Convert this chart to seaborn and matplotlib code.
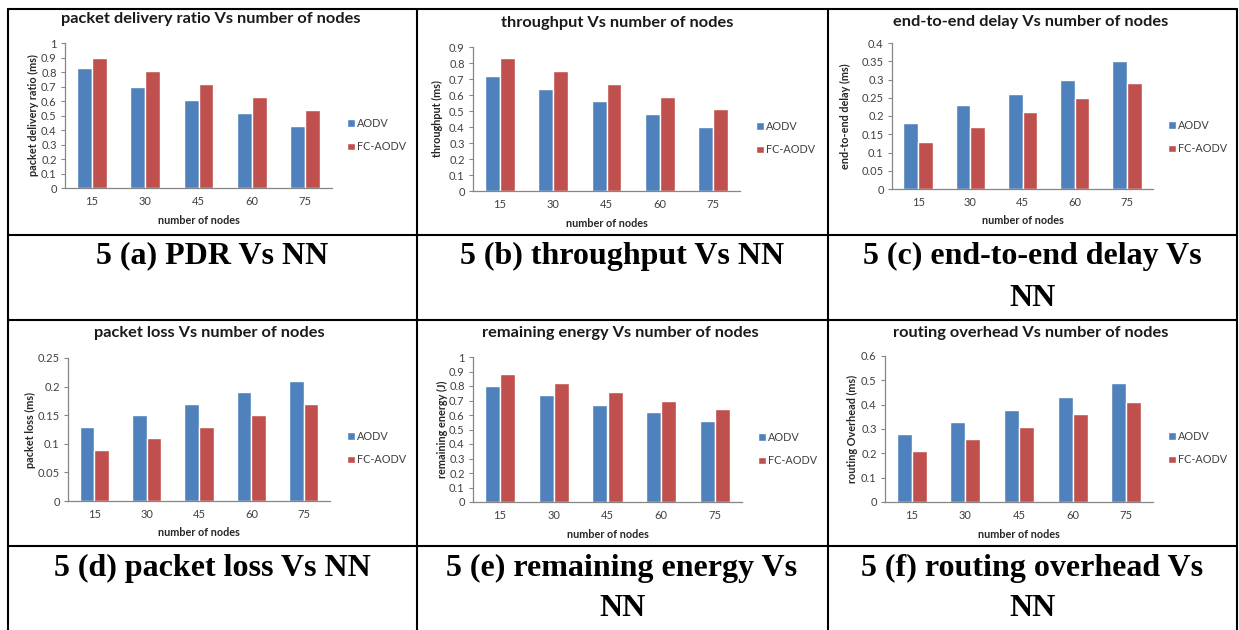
import numpy as np
import pandas as pd
import matplotlib
matplotlib.use("Agg")
import matplotlib.pyplot as plt
import seaborn as sns
from matplotlib.lines import Line2D

# ---- data -------------------------------------------------------------
nodes = ["15", "30", "45", "60", "75"]
protocols = ["AODV", "FC-AODV"]

pdr_aodv = [0.83, 0.70, 0.61, 0.52, 0.43]
pdr_fc = [0.90, 0.81, 0.72, 0.63, 0.54]

thr_aodv = [0.72, 0.64, 0.56, 0.48, 0.40]
thr_fc = [0.83, 0.75, 0.67, 0.59, 0.51]

delay_aodv = [0.18, 0.23, 0.26, 0.30, 0.35]
delay_fc = [0.13, 0.17, 0.21, 0.25, 0.29]

loss_aodv = [0.13, 0.15, 0.17, 0.19, 0.21]
loss_fc = [0.09, 0.11, 0.13, 0.15, 0.17]

energy_aodv = [0.80, 0.74, 0.67, 0.62, 0.56]
energy_fc = [0.88, 0.82, 0.76, 0.70, 0.64]

ovh_aodv = [0.28, 0.33, 0.38, 0.43, 0.49]
ovh_fc = [0.21, 0.26, 0.31, 0.36, 0.41]

titles = [
    "packet delivery ratio Vs number of nodes",
    "throughput Vs number of nodes",
    "end-to-end delay Vs number of nodes",
    "packet loss Vs number of nodes",
    "remaining energy Vs number of nodes",
    "routing overhead Vs number of nodes",
]
ylabels = [
    "packet delivery ratio (ms)",
    "throughput (ms)",
    "end-to-end delay (ms)",
    "packet loss (ms)",
    "remaining energy (J)",
    "routing Overhead (ms)",
]
captions = [
    ["5 (a) PDR Vs NN"],
    ["5 (b) throughput Vs NN"],
    ["5 (c) end-to-end delay Vs", "NN"],
    ["5 (d) packet loss Vs NN"],
    ["5 (e) remaining energy Vs", "NN"],
    ["5 (f) routing overhead Vs", "NN"],
]
xlabel = "number of nodes"

# ---- layout (pixels) ---------------------------------------------------
W, H = 1239, 630
BLUE, RED = "#4F81BD", "#C0504D"
AXIS_GREY = "#868686"
TEXT_GREY = "#404040"

panels = [
    dict(a=pdr_aodv, f=pdr_fc, ymax=1.0, step=0.1, box=(65, 43, 332, 188),
         title_xy=(211, 19), ylab_x=33, leg_xy=(347, 135)),
    dict(a=thr_aodv, f=thr_fc, ymax=0.9, step=0.1, box=(473, 47, 740, 191),
         title_xy=(617, 23), ylab_x=437, leg_xy=(756, 138)),
    dict(a=delay_aodv, f=delay_fc, ymax=0.4, step=0.05, box=(892, 43, 1153, 189),
         title_xy=(1031, 22), ylab_x=845, leg_xy=(1168, 137)),
    dict(a=loss_aodv, f=loss_fc, ymax=0.25, step=0.05, box=(68, 358, 330, 501),
         title_xy=(209, 333), ylab_x=30, leg_xy=(347, 448)),
    dict(a=energy_aodv, f=energy_fc, ymax=1.0, step=0.1, box=(473, 357, 742, 502),
         title_xy=(620, 333), ylab_x=442, leg_xy=(758, 449)),
    dict(a=ovh_aodv, f=ovh_fc, ymax=0.6, step=0.1, box=(885, 356, 1153, 502),
         title_xy=(1031, 333), ylab_x=852, leg_xy=(1168, 448)),
]

col_centres = [212, 622, 1032]
cap_rows = [(256, 298), (568, 608)]

sns.set_theme(style="white")
plt.rcParams["font.family"] = ["Lato", "DejaVu Sans"]

fig = plt.figure(figsize=(W / 100, H / 100), dpi=100)
fig.patch.set_facecolor("white")


def fx(x):
    return x / W


def fy(y):
    return 1 - y / H


for i, p in enumerate(panels):
    left, top, right, bottom = p["box"]
    ax = fig.add_axes([fx(left), fy(bottom), (right - left) / W, (bottom - top) / H])
    df = pd.DataFrame({
        "nodes": nodes * 2,
        "protocol": [protocols[0]] * len(nodes) + [protocols[1]] * len(nodes),
        "value": p["a"] + p["f"],
    })
    sns.barplot(data=df, x="nodes", y="value", hue="protocol", order=nodes,
                hue_order=protocols, palette=[BLUE, RED], width=0.56,
                saturation=1, errorbar=None, ax=ax, legend=True)
    ax.set_xlim(-0.5, len(nodes) - 0.5)
    ax.set_ylim(0, p["ymax"])
    ticks = np.round(np.arange(0, p["ymax"] + p["step"] / 2, p["step"]), 2)
    ax.set_yticks(ticks)
    ax.set_yticklabels([f"{t:g}" for t in ticks])
    ax.set_xlabel("")
    ax.set_ylabel("")
    for s in ("top", "right"):
        ax.spines[s].set_visible(False)
    for s in ("left", "bottom"):
        ax.spines[s].set_color(AXIS_GREY)
        ax.spines[s].set_linewidth(0.9)
    ax.tick_params(axis="y", left=True, length=3, width=0.8, color=AXIS_GREY,
                   labelsize=8, labelcolor=TEXT_GREY, pad=3)
    ax.tick_params(axis="x", bottom=False, length=0, labelsize=8, labelcolor=TEXT_GREY, pad=6)
    ax.set_facecolor("white")

    sns.move_legend(ax, "center left", bbox_to_anchor=(fx(p["leg_xy"][0]), fy(p["leg_xy"][1])),
                    bbox_transform=fig.transFigure, title=None, frameon=False,
                    fontsize=7.8, handlelength=0.7, handleheight=0.7,
                    handletextpad=0.25, labelspacing=1.15, borderpad=0, borderaxespad=0)
    for t in ax.get_legend().get_texts():
        t.set_color(TEXT_GREY)

    # chart title, axis titles
    fig.text(fx(p["title_xy"][0]), fy(p["title_xy"][1]), titles[i], ha="center",
             va="center", fontsize=11.8, fontweight="bold", color="#1a1a1a")
    fig.text(fx(p["ylab_x"]), fy((top + bottom) / 2), ylabels[i], rotation=90,
             ha="center", va="center", fontsize=7.8, fontweight="bold", color="#262626")
    fig.text(fx((left + right) / 2), fy(bottom + 32), xlabel, ha="center", va="center",
             fontsize=7.8, fontweight="bold", color="#262626")

    # caption in the cell below the chart
    r, c = divmod(i, 3)
    for line, y in zip(captions[i], cap_rows[r]):
        fig.text(fx(col_centres[c]), fy(y), line, ha="center", va="center",
                 fontsize=23, fontweight="bold", family="Liberation Serif", color="black")

# ---- table rules ------------------------------------------------------
lw = 1.5
for x in (8, 417, 828, 1237):
    fig.add_artist(Line2D([fx(x), fx(x)], [fy(9), fy(630)], color="black", lw=lw))
for y in (9, 235, 320, 546):
    fig.add_artist(Line2D([fx(8), fx(1237)], [fy(y), fy(y)], color="black", lw=lw))

fig.savefig("out.png", dpi=100, facecolor="white")
